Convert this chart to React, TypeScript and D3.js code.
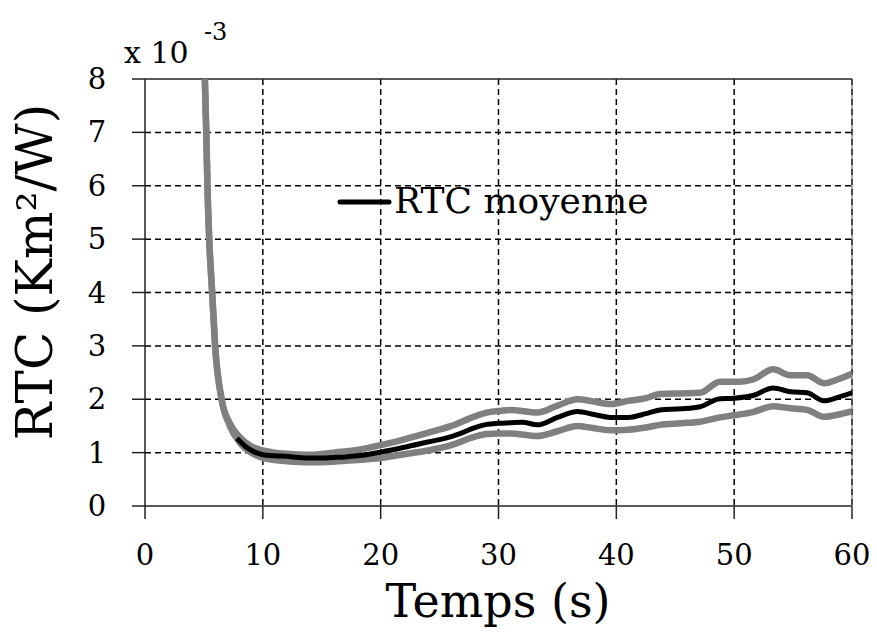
import React from "react";
import * as d3 from "d3";

const xTicks = [0, 10, 20, 30, 40, 50, 60];
const yTicks = [0, 1, 2, 3, 4, 5, 6, 7, 8];

const meanT = [7.8, 8.5, 9.2, 10, 11, 12, 13, 14, 15, 16, 17, 18, 19, 20, 22, 24, 26, 27, 28, 29, 30, 31, 32, 33.3, 35, 36.7, 38, 39.5, 41, 42.5, 43.7, 45.5, 47.1, 48.8, 50, 51.6, 53.3, 54.8, 56.2, 57.6, 59, 60];
const meanV = [1.27, 1.12, 1.02, 0.96, 0.94, 0.93, 0.91, 0.9, 0.9, 0.91, 0.92, 0.94, 0.97, 1.01, 1.1, 1.2, 1.3, 1.38, 1.47, 1.53, 1.55, 1.56, 1.57, 1.52, 1.66, 1.77, 1.72, 1.66, 1.66, 1.73, 1.8, 1.82, 1.86, 2.01, 2.02, 2.07, 2.21, 2.14, 2.12, 1.97, 2.05, 2.12];

const upperT = [5.0, 5.08, 5.2, 5.3, 5.45, 5.7, 5.95, 6.5, 7.2, 8.0, 9.0, 10, 11, 12, 14, 16, 18, 20, 22, 24, 26, 28, 29, 30, 31, 33.3, 35, 36.7, 38, 39.5, 41, 42.5, 43.7, 45.5, 47.1, 48.8, 50.5, 51.6, 53.3, 54.8, 56.2, 57.6, 59, 60];
const upperV = [8.6, 8.0, 7.0, 6.0, 5.0, 4.0, 3.0, 2.0, 1.55, 1.3, 1.12, 1.04, 1.0, 0.98, 0.96, 1.0, 1.05, 1.14, 1.25, 1.37, 1.5, 1.68, 1.75, 1.78, 1.8, 1.75, 1.88, 2.0, 1.96, 1.91, 1.97, 2.02, 2.1, 2.11, 2.12, 2.33, 2.33, 2.37, 2.56, 2.45, 2.45, 2.3, 2.39, 2.48];

const lowerT = [5.0, 5.08, 5.2, 5.3, 5.45, 5.7, 5.95, 6.5, 7.2, 8.0, 9.0, 10, 11, 12, 14, 16, 18, 20, 22, 24, 26, 28, 29, 30, 31, 33.3, 35, 36.7, 38, 39.5, 41, 42.5, 43.7, 45.5, 47.1, 48.8, 50, 51.6, 53.3, 54.8, 56.2, 57.6, 59, 60];
const lowerV = [8.6, 8.0, 7.0, 6.0, 5.0, 4.0, 3.0, 2.0, 1.5, 1.2, 1.0, 0.9, 0.86, 0.84, 0.82, 0.83, 0.86, 0.9, 0.97, 1.04, 1.14, 1.3, 1.35, 1.36, 1.36, 1.31, 1.4, 1.5, 1.46, 1.42, 1.43, 1.47, 1.52, 1.55, 1.58, 1.66, 1.7, 1.76, 1.87, 1.83, 1.8, 1.67, 1.72, 1.77];

const legendLabel = "RTC moyenne";
const xLabel = "Temps (s)";
const yLabel = "RTC (Km\u00B2/W)";

const ff = (size: number): React.CSSProperties => ({ fontFamily: '"DejaVu Serif", serif', fontSize: size });

export default function App() {
  const W = 877, H = 636;
  const L = 145, R = 852, T = 79, B = 506;
  const x = d3.scaleLinear().domain([0, 60]).range([L, R]);
  const y = d3.scaleLinear().domain([0, 8]).range([B, T]);

  const mk = (ts: number[], vs: number[]) =>
    d3.line<number>().x((_, i) => x(ts[i])).y((v) => y(v)).curve(d3.curveMonotoneX)(vs) || "";

  return (
    <svg width={W} height={H} style={{ position: "absolute", left: 0, top: 0, background: "#fff" }}>
      <defs>
        <clipPath id="plot">
          <rect x={L} y={T} width={R - L} height={B - T} />
        </clipPath>
      </defs>
      <rect x={0} y={0} width={W} height={H} fill="#fff" />
      {/* grid */}
      {xTicks.filter((t) => t > 0).map((t) => (
        <line key={"gx" + t} x1={x(t)} x2={x(t)} y1={T} y2={B} stroke="#000" strokeWidth={1.5} strokeDasharray="6,4" />
      ))}
      {yTicks.filter((t) => t > 0 && t < 8).map((t) => (
        <line key={"gy" + t} x1={L} x2={R} y1={y(t)} y2={y(t)} stroke="#000" strokeWidth={1.5} strokeDasharray="6,4" />
      ))}
      {/* frame */}
      <line x1={L} x2={R} y1={T} y2={T} stroke="#222" strokeWidth={1.5} />
      <line x1={L} x2={R} y1={B} y2={B} stroke="#222" strokeWidth={1.5} />
      <line x1={L} x2={L} y1={T} y2={B} stroke="#222" strokeWidth={1.5} />
      <line x1={R} x2={R} y1={T} y2={B} stroke="#555" strokeWidth={1} />
      {/* ticks */}
      {xTicks.map((t) => (
        <line key={"tx" + t} x1={x(t)} x2={x(t)} y1={B} y2={B + 13} stroke="#222" strokeWidth={1.5} />
      ))}
      {yTicks.map((t) => (
        <line key={"ty" + t} x1={L - 13} x2={L} y1={y(t)} y2={y(t)} stroke="#222" strokeWidth={1.5} />
      ))}
      {/* tick labels */}
      {xTicks.map((t) => (
        <text key={"lx" + t} x={x(t)} y={565} textAnchor="middle" style={ff(29)} fill="#000">{t}</text>
      ))}
      {yTicks.map((t) => (
        <text key={"ly" + t} x={97} y={y(t) + 10} textAnchor="middle" style={ff(29)} fill="#000">{t}</text>
      ))}
      {/* multiplier */}
      <text x={124} y={63} style={ff(30)} fill="#000">x 10</text>
      <text x={204} y={40} style={ff(24)} fill="#000">-3</text>
      {/* curves */}
      <g clipPath="url(#plot)">
        <path d={mk(upperT, upperV)} fill="none" stroke="#808080" strokeWidth={6.5} strokeLinejoin="round" />
        <path d={mk(lowerT, lowerV)} fill="none" stroke="#808080" strokeWidth={6.5} strokeLinejoin="round" />
        <path d={mk(meanT, meanV)} fill="none" stroke="#000" strokeWidth={5} strokeLinejoin="round" />
      </g>
      {/* legend */}
      <line x1={340} x2={389} y1={202} y2={202} stroke="#000" strokeWidth={5} strokeLinecap="round" />
      <text x={394} y={213} style={ff(36)} fill="#000">{legendLabel}</text>
      {/* axis labels */}
      <text x={498} y={617} textAnchor="middle" style={ff(46)} fill="#000">{xLabel}</text>
      <text transform="translate(52,272) rotate(-90)" textAnchor="middle" style={ff(50)} fill="#000">{yLabel}</text>
    </svg>
  );
}
